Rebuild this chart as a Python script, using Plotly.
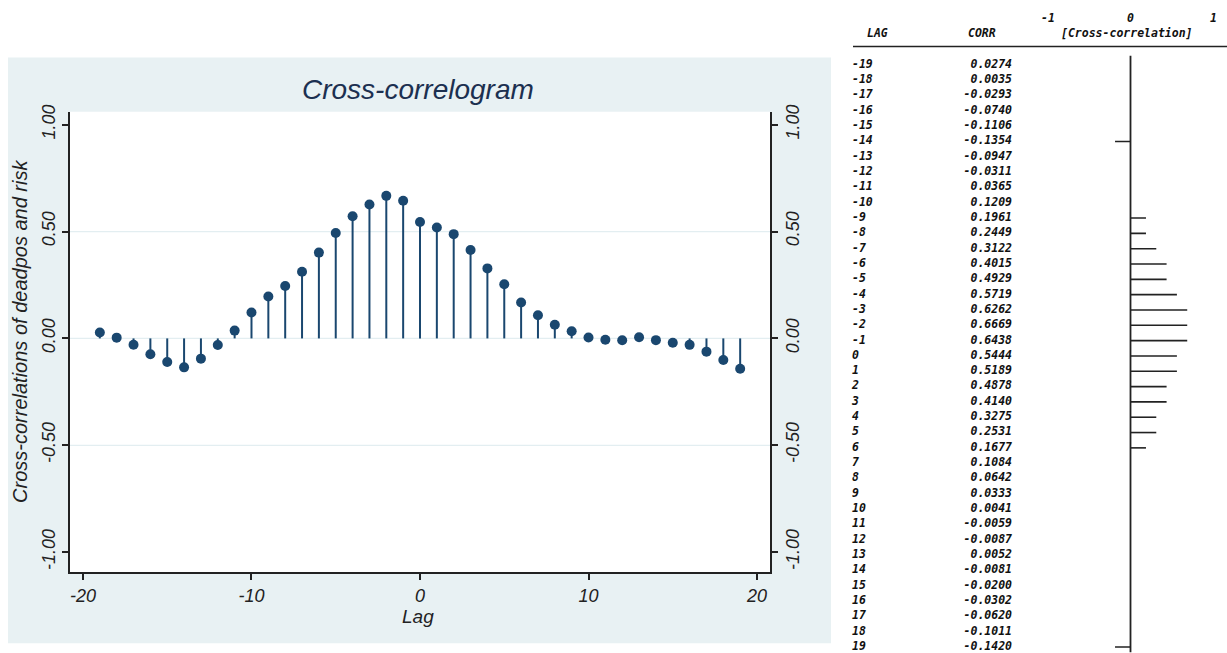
import math
import plotly.graph_objects as go

lags = list(range(-19, 20))
corr = [0.0274, 0.0035, -0.0293, -0.0740, -0.1106, -0.1354, -0.0947, -0.0311,
        0.0365, 0.1209, 0.1961, 0.2449, 0.3122, 0.4015, 0.4929, 0.5719,
        0.6262, 0.6669, 0.6438, 0.5444, 0.5189, 0.4878, 0.4140, 0.3275,
        0.2531, 0.1677, 0.1084, 0.0642, 0.0333, 0.0041, -0.0059, -0.0087,
        0.0052, -0.0081, -0.0200, -0.0302, -0.0620, -0.1011, -0.1420]
corr_labels = ["%.4f" % v for v in corr]
x_ticks = [-20, -10, 0, 10, 20]
x_ticktext = ["-20", "-10", "0", "10", "20"]
y_ticks = [-1.0, -0.5, 0.0, 0.5, 1.0]
y_ticktext = ["-1.00", "-0.50", "0.00", "0.50", "1.00"]
grid_vals = [-0.5, 0.0, 0.5]

W, H = 1227, 653
NAVY = "#1a476f"
BG = "#e8f1f3"


def px(v):
    return v / W


def py(v):
    # paper y fraction for a target screen-pixel row (compensates page offset)
    return min(1.0, max(0.0, 1 - ((v - 7.5) / 0.988) / H))


ROW0, ROWH = 356, 15.3  # screen y of lag 0 row, row spacing (layout)
TBL_TOP, TBL_BOT = 47, 652

fig = go.Figure()

# stems
sx, sy = [], []
for l, v in zip(lags, corr):
    sx += [l, l, None]
    sy += [0, v, None]
fig.add_trace(go.Scatter(x=sx, y=sy, mode="lines", line=dict(color=NAVY, width=2),
                         hoverinfo="skip", showlegend=False))
fig.add_trace(go.Scatter(x=lags, y=corr, mode="markers",
                         marker=dict(color=NAVY, size=10, symbol="circle"),
                         showlegend=False))
# dummy for right axis
fig.add_trace(go.Scatter(x=[lags[0]], y=[corr[0]], yaxis="y3", mode="markers",
                         marker=dict(opacity=0), hoverinfo="skip", showlegend=False))

# ---- right table: bars ----
bx, by = [], []
for l, v in zip(lags, corr):
    n = math.floor(abs(v) * 8)
    if n >= 1:
        length = (n + 0.5) / 8 * (1 if v > 0 else -1)
        bx += [0, length, None]
        by += [l, l, None]
fig.add_trace(go.Scatter(x=bx, y=by, xaxis="x2", yaxis="y2", mode="lines",
                         line=dict(color="#222", width=1.6), hoverinfo="skip", showlegend=False))
fig.add_trace(go.Scatter(x=[0, 0], y=[-19.6, 19.8], xaxis="x2", yaxis="y2", mode="lines",
                         line=dict(color="#222", width=1.8), hoverinfo="skip", showlegend=False))

mono = dict(family="DejaVu Sans Mono", size=11.5, color="#111", style="italic", weight="bold")
fig.add_trace(go.Scatter(x=[852] * len(lags), y=lags, xaxis="x3", yaxis="y2", mode="text",
                         text=[str(l) for l in lags], textposition="middle right",
                         textfont=mono, hoverinfo="skip", showlegend=False))
fig.add_trace(go.Scatter(x=[1012] * len(lags), y=lags, xaxis="x3", yaxis="y2", mode="text",
                         text=corr_labels, textposition="middle left",
                         textfont=mono, hoverinfo="skip", showlegend=False))

tickfont = dict(family="Liberation Sans", size=18, color="#222", style="italic")

shapes = [
    dict(type="rect", xref="paper", yref="paper", x0=px(8), x1=px(831), y0=py(643), y1=py(58),
         fillcolor=BG, line=dict(width=0), layer="below"),
    dict(type="rect", xref="x domain", yref="y domain", x0=0, x1=1, y0=0, y1=1,
         fillcolor="white", line=dict(width=0), layer="below"),
    dict(type="line", xref="paper", yref="paper", x0=px(853), x1=1, y0=py(47), y1=py(47),
         line=dict(color="#222", width=1.6)),
]
for g in grid_vals:
    shapes.append(dict(type="line", xref="x domain", yref="y", x0=0, x1=1, y0=g, y1=g,
                       line=dict(color="#e3eef1", width=1.2), layer="below"))


def ann(text, x, y, font, **kw):
    d = dict(text=text, x=x, y=y, xref="paper", yref="paper", showarrow=False,
             xanchor="center", yanchor="middle", font=font)
    d.update(kw)
    return d


annotations = [
    ann("Cross-correlogram", px(418), py(90),
        dict(family="Liberation Sans", size=28, color="#1c3050", style="italic")),
    ann("Cross-correlations of deadpos and risk", px(20), py(332),
        dict(family="Liberation Sans", size=20, color="#222", style="italic"), textangle=-90),
    ann("Lag", px(418), py(616), dict(family="Liberation Sans", size=19, color="#222", style="italic")),
    ann("LAG", px(877), py(33), mono),
    ann("CORR", px(982), py(33), mono),
    ann("[Cross-correlation]", px(1127), py(33), mono),
]
for t in [-1, 0, 1]:
    annotations.append(dict(text=str(t), x=t, xref="x2", y=py(18), yref="paper",
                            xanchor="center", yanchor="middle", showarrow=False, font=mono))

axis_common = dict(showline=True, linecolor="#222", linewidth=1.5, ticks="outside",
                   ticklen=6, tickcolor="#222", tickwidth=1.5, zeroline=False, showgrid=False,
                   tickfont=tickfont)

fig.update_layout(
    width=W, height=H, autosize=False, margin=dict(l=0, r=0, t=0, b=0),
    paper_bgcolor="white", plot_bgcolor="rgba(0,0,0,0)",
    xaxis=dict(domain=[px(70), px(770)], range=[-20.77, 20.77], tickvals=x_ticks,
               ticktext=x_ticktext, anchor="y", **axis_common),
    yaxis=dict(domain=[py(572), py(112)], range=[-1.094, 1.061], tickvals=y_ticks,
               ticktext=y_ticktext, tickangle=-90, anchor="x", **axis_common),
    yaxis3=dict(domain=[py(572), py(112)], range=[-1.094, 1.061], tickvals=y_ticks,
                ticktext=y_ticktext, tickangle=-90, overlaying="y", side="right",
                anchor="x", **axis_common),
    xaxis2=dict(domain=[px(1048), px(1213)], range=[-1, 1], visible=False, anchor="y2"),
    xaxis3=dict(domain=[px(840), 1], range=[840, W], visible=False, anchor="y2"),
    yaxis2=dict(domain=[py(TBL_BOT), py(TBL_TOP)],
                range=[(TBL_BOT - ROW0) / ROWH, (TBL_TOP - ROW0) / ROWH],
                visible=False, anchor="x2"),
    shapes=shapes, annotations=annotations,
)

post = ("document.body.style.margin='0';document.body.style.overflow='hidden';"
        "var gd=document.getElementById('{plot_id}');"
        "Plotly.relayout(gd,{width:%d,height:%d});" % (W, H))
fig.write_html("out.html", config={"displayModeBar": False, "responsive": False},
               post_script=post)
